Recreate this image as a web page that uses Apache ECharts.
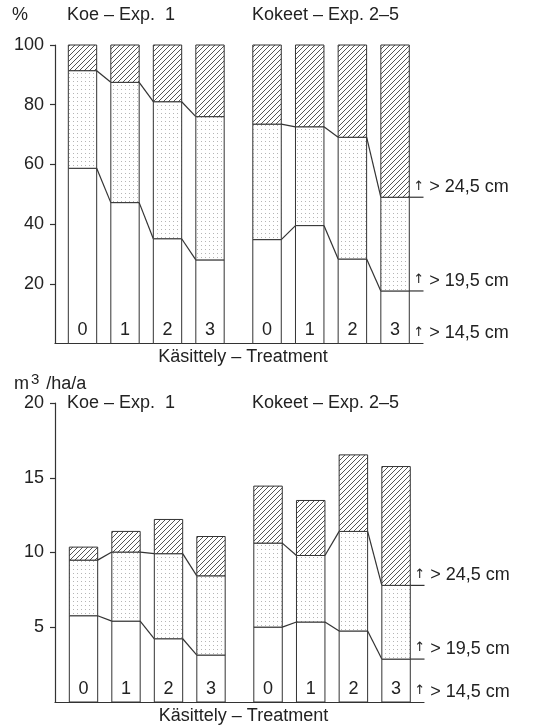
<!DOCTYPE html>
<html><head><meta charset="utf-8">
<script src="https://cdn.jsdelivr.net/npm/echarts@6/dist/echarts.min.js"></script>
<style>html,body{margin:0;padding:0;background:#fff}#c{width:547px;height:728px}</style>
</head><body><div id="c"></div>
<script>
// ---------- DATA ----------
const treatments = ['0', '1', '2', '3'];
const groupTitles = ['Koe – Exp.  1', 'Kokeet – Exp. 2–5'];
const classLabels = ['> 24,5 cm', '> 19,5 cm', '> 14,5 cm'];
const xName = 'Käsittely – Treatment';
const pctTicks = [0, 20, 40, 60, 80, 100];
const volTicks = [0, 5, 10, 15, 20];

// Top chart: share of volume, % (white = 14.5–19.5 cm, dotted = 19.5–24.5 cm, hatched = >24.5 cm)
const pctExp1White   = [58.7, 47.2, 35.1, 28.0];
const pctExp1Dotted  = [32.7, 40.3, 45.9, 48.0];
const pctExp1Hatched = [8.6, 12.5, 19.0, 24.0];
const pctExp25White   = [34.8, 39.5, 28.3, 17.6];
const pctExp25Dotted  = [38.7, 33.1, 40.8, 31.4];
const pctExp25Hatched = [26.5, 27.4, 30.9, 51.0];

// Bottom chart: volume increment, m3/ha/a
const volExp1White   = [5.77, 5.41, 4.23, 3.14];
const volExp1Dotted  = [3.72, 4.62, 5.69, 5.30];
const volExp1Hatched = [0.87, 1.38, 2.29, 2.63];
const volExp25White   = [5.01, 5.35, 4.75, 2.87];
const volExp25Dotted  = [5.62, 4.45, 6.66, 4.93];
const volExp25Hatched = [3.81, 3.68, 5.12, 7.95];

// ---------- STYLE ----------
const FONT = '"Liberation Sans", Arial, Helvetica, sans-serif';
const TXT = '#222';
const LINE = '#333';
const FS = 18;

function makePattern(kind) {
  const c = document.createElement('canvas');
  if (kind === 'hatch') {
    const s = 5; c.width = s; c.height = s;
    const g = c.getContext('2d');
    g.fillStyle = '#fff'; g.fillRect(0, 0, s, s);
    g.strokeStyle = '#555'; g.lineWidth = 1;
    g.beginPath();
    g.moveTo(-1, s + 1); g.lineTo(s + 1, -1);
    g.moveTo(-1, 1); g.lineTo(1, -1);
    g.moveTo(s - 1, s + 1); g.lineTo(s + 1, s - 1);
    g.stroke();
  } else {
    const s = 4; c.width = s; c.height = s;
    const g = c.getContext('2d');
    g.fillStyle = '#fff'; g.fillRect(0, 0, s, s);
    g.fillStyle = '#b5b5b5'; g.fillRect(1, 1, 1, 1);
  }
  return { image: c, repeat: 'repeat' };
}
const HATCH = makePattern('hatch');
const DOTS = makePattern('dots');

function makeRender(white, dotted, hatched, isLastGroup) {
  return function (params, api) {
    const i = api.value(0);
    const w = api.value(1), d = api.value(2), h = api.value(3);
    const slot = api.size([1, 0])[0];
    const bw = slot * 0.667;
    const p0 = api.coord([i, 0]);
    const cx = p0[0];
    const y0 = p0[1];
    const y1 = api.coord([i, w])[1];
    const y2 = api.coord([i, w + d])[1];
    const y3 = api.coord([i, w + d + h])[1];
    const xl = cx - bw / 2, xr = cx + bw / 2;
    const stroke = { stroke: LINE, lineWidth: 1 };
    const children = [
      { type: 'rect', shape: { x: xl, y: y1, width: bw, height: y0 - y1 }, style: Object.assign({ fill: '#fff' }, stroke) },
      { type: 'rect', shape: { x: xl, y: y2, width: bw, height: y1 - y2 }, style: Object.assign({ fill: DOTS }, stroke) },
      { type: 'rect', shape: { x: xl, y: y3, width: bw, height: y2 - y3 }, style: Object.assign({ fill: HATCH }, stroke) }
    ];
    const n = white.length;
    if (i < n - 1) {
      const nw = white[i + 1], nd = dotted[i + 1];
      const nxl = api.coord([i + 1, 0])[0] - bw / 2;
      const ny1 = api.coord([i + 1, nw])[1];
      const ny2 = api.coord([i + 1, nw + nd])[1];
      children.push({ type: 'line', shape: { x1: xr, y1: y1, x2: nxl, y2: ny1 }, style: { stroke: LINE, lineWidth: 1.2 } });
      children.push({ type: 'line', shape: { x1: xr, y1: y2, x2: nxl, y2: ny2 }, style: { stroke: LINE, lineWidth: 1.2 } });
    } else if (isLastGroup) {
      const xe = xr + (slot - bw);
      children.push({ type: 'line', shape: { x1: xr, y1: y1, x2: xe, y2: y1 }, style: { stroke: LINE, lineWidth: 1.2 } });
      children.push({ type: 'line', shape: { x1: xr, y1: y2, x2: xe, y2: y2 }, style: { stroke: LINE, lineWidth: 1.2 } });
      const ys = [y2, y1, y0];
      ys.forEach(function (yy, k) {
        children.push({
          type: 'text',
          style: {
            x: xr + 4, y: yy - 1,
            text: '{a|↑} ' + classLabels[k],
            fill: TXT, font: FS + 'px ' + FONT,
            verticalAlign: 'bottom', align: 'left',
            rich: { a: { fontSize: 13, fontFamily: '"DejaVu Sans", sans-serif', fill: TXT, padding: [0, 0, 2, 0] } }
          }
        });
      });
    }
    return { type: 'group', children: children };
  };
}

function rows(white, dotted, hatched) {
  return treatments.map(function (t, k) { return [k, white[k], dotted[k], hatched[k]]; });
}

// ---------- LAYOUT ----------
const panels = [
  { top: 45, bottom: 343.5, max: 100, interval: 20, shift: 0,
    sets: [[pctExp1White, pctExp1Dotted, pctExp1Hatched], [pctExp25White, pctExp25Dotted, pctExp25Hatched]] },
  { top: 403, bottom: 702, max: 20, interval: 5, shift: 1,
    sets: [[volExp1White, volExp1Dotted, volExp1Hatched], [volExp25White, volExp25Dotted, volExp25Hatched]] }
];

const grid = [], xAxis = [], yAxis = [], series = [];
panels.forEach(function (p, pi) {
  const h = p.bottom - p.top;
  const g0 = grid.length;
  grid.push({ left: 55, top: p.top, width: 368 + p.shift, height: h });
  xAxis.push({
    gridIndex: g0, type: 'value', min: 0, max: 1,
    axisLine: { show: true, lineStyle: { color: LINE, width: 1.2 } },
    axisTick: { show: false }, axisLabel: { show: false }, splitLine: { show: false },
    name: xName, nameLocation: 'middle', nameGap: 5,
    nameTextStyle: { color: TXT, fontSize: FS, fontFamily: FONT, verticalAlign: 'top', padding: [0, 0, 0, 8] }
  });
  yAxis.push({
    gridIndex: g0, type: 'value', min: 0, max: p.max, interval: p.interval,
    axisLine: { show: true, lineStyle: { color: LINE, width: 1.2 } },
    axisTick: { show: true, length: 5, lineStyle: { color: LINE, width: 1.2 } },
    axisLabel: { color: TXT, fontSize: FS, fontFamily: FONT, margin: 11, showMinLabel: false },
    splitLine: { show: false }
  });
  const lefts = [61.25 + p.shift, 245.7 + p.shift];
  const widths = [170, 170.7];
  p.sets.forEach(function (s, gi) {
    const gIdx = grid.length;
    grid.push({ left: lefts[gi], top: p.top, width: widths[gi], height: h });
    xAxis.push({
      gridIndex: gIdx, type: 'category', data: treatments, z: 10,
      axisLine: { show: false }, axisTick: { show: false },
      axisLabel: { inside: true, margin: 4, color: TXT, fontSize: FS, fontFamily: FONT }
    });
    yAxis.push({ gridIndex: gIdx, type: 'value', min: 0, max: p.max, show: false });
    series.push({
      type: 'custom', xAxisIndex: gIdx, yAxisIndex: gIdx,
      renderItem: makeRender(s[0], s[1], s[2], gi === 1),
      data: rows(s[0], s[1], s[2]),
      encode: { x: 0, y: [1, 2, 3] },
      clip: false, silent: true, z: 1
    });
  });
});

const tStyle = { color: TXT, fontSize: FS, fontFamily: FONT, fontWeight: 'normal' };
const title = [
  { text: '%', left: 12, top: 6, padding: 0, textStyle: tStyle },
  { text: groupTitles[0], left: 67, top: 6, padding: 0, textStyle: tStyle },
  { text: groupTitles[1], left: 252, top: 6, padding: 0, textStyle: tStyle },
  { text: '{m|m}{s|3}{m| /ha/a}', left: 14, top: 372, padding: 0,
    textStyle: { color: TXT, fontSize: FS, fontFamily: FONT, fontWeight: 'normal',
      rich: { m: { fontSize: FS, fontFamily: FONT, color: TXT },
              s: { fontSize: 15, fontFamily: FONT, color: TXT, padding: [0, 2, 9, 2] } } } },
  { text: groupTitles[0], left: 67, top: 394, padding: 0, textStyle: tStyle },
  { text: groupTitles[1], left: 252, top: 394, padding: 0, textStyle: tStyle }
];

const chart = echarts.init(document.getElementById('c'), null, { renderer: 'canvas' });
chart.setOption({
  animation: false,
  backgroundColor: '#fff',
  title: title,
  grid: grid,
  xAxis: xAxis,
  yAxis: yAxis,
  series: series
});
</script>
</body></html>
